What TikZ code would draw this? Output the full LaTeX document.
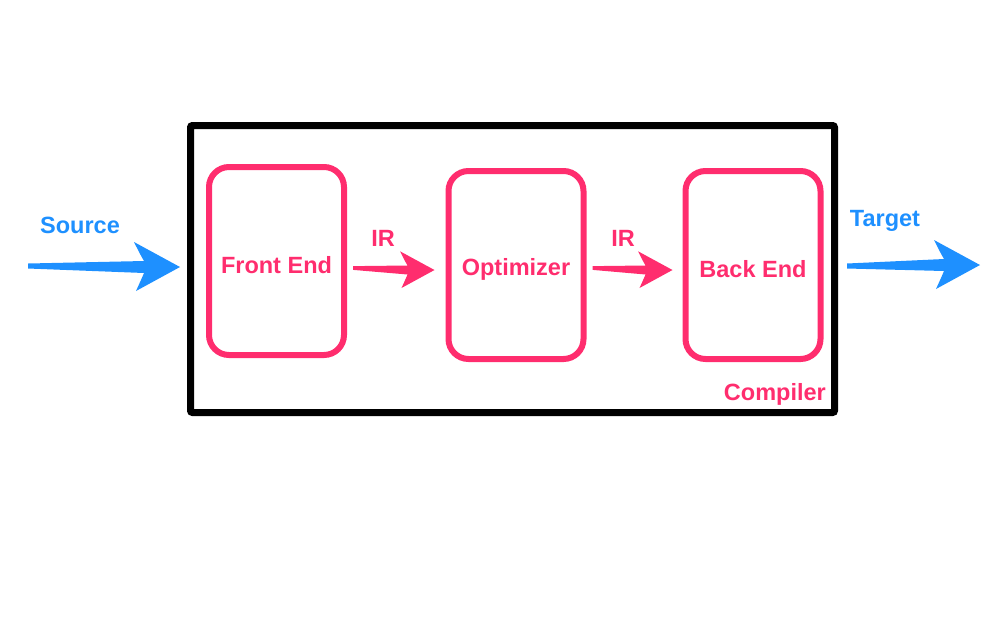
\documentclass[tikz,border=0pt]{standalone}
\usepackage{fontspec}
\setmainfont{Liberation Sans}
\usetikzlibrary{calc,positioning}
\definecolor{flowblue}{RGB}{30,144,255}
\definecolor{passpink}{RGB}{255,45,110}

\begin{document}
\begin{tikzpicture}[x=1pt, y=-1pt, font=\fontsize{23.5}{26}\selectfont\bfseries]
      \tikzset{
	  stage/.style={draw=passpink, line width=6pt, rounded corners=20pt, minimum width=135pt, minimum height=188pt, text=passpink, inner sep=0pt, text height=26pt},
	  tag/.style={text=#1, inner sep=0pt}
      }
      \useasboundingbox (0,0) rectangle (995,625);

      % tapered arrow: colour, tail, tip, scale
      \def\fatarrow#1#2#3#4{%
        \fill[#1] ($(#2)+(0,-2.5*#4)$) -- ($(#3)+(-36*#4,-6*#4)$)
          .. controls ($(#3)+(-40*#4,-13*#4)$) .. ($(#3)+(-46*#4,-25*#4)$)
          -- (#3) -- ($(#3)+(-44*#4,24*#4)$)
          .. controls ($(#3)+(-39*#4,13*#4)$) .. ($(#3)+(-36*#4,6*#4)$)
          -- ($(#2)+(0,2.5*#4)$) -- cycle;}

      \node[draw=black, line width=7pt, rounded corners=2pt, minimum width=644pt, minimum height=287pt] (compiler) at (512.5,269) {};
      \node[stage] (front) at (276.5,261) {Front End};
      \node[stage] (opt) at (516,265) {Optimizer};
      \node[stage] (back) at (753,265) {Back End};
      \node[tag=passpink, anchor=south east] (cname) at ($(compiler.south east)+(-12,-10)$) {Compiler};

      \coordinate (src) at (28,266);
      \coordinate (tgt) at (980,265);
      \coordinate (srctip) at ($(compiler.west)+(-7,-2)$);
      \coordinate (tgttail) at ($(compiler.east)+(9,-3)$);
      \coordinate (ir1tail) at ($(front.east)+(6,7)$);
      \coordinate (ir1tip) at ($(opt.west)+(-11,5)$);
      \coordinate (ir2tail) at ($(opt.east)+(6,3)$);
      \coordinate (ir2tip) at ($(back.west)+(-10,5)$);

      \fatarrow{flowblue}{src}{srctip}{1}
      \fatarrow{flowblue}{tgttail}{tgt}{1}
      \fatarrow{passpink}{ir1tail}{ir1tip}{0.75}
      \fatarrow{passpink}{ir2tail}{ir2tip}{0.75}

      \node[tag=flowblue] (srcname) at (80,225) {Source};
      \node[tag=flowblue] (tgtname) at (885,221) {Target};
      \node[tag=passpink] (ir1) at (383,238) {IR};
      \node[tag=passpink] (ir2) at (623,238) {IR};
\end{tikzpicture}
\end{document}
